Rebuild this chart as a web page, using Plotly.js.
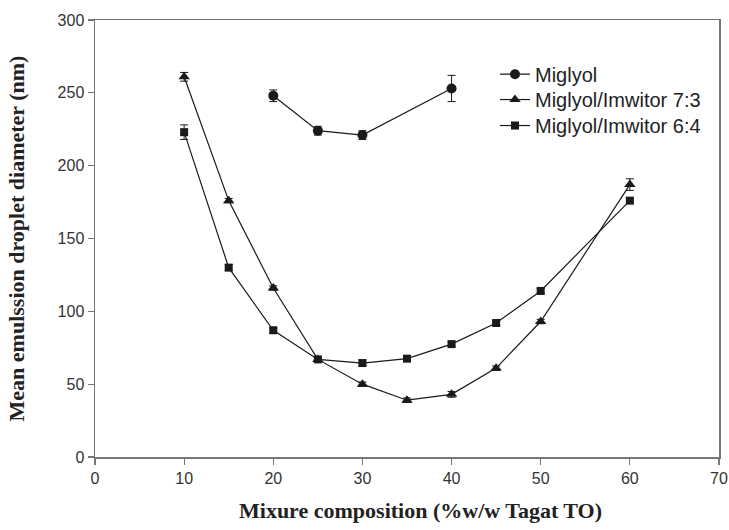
<!DOCTYPE html>
<html>
<head>
<meta charset="utf-8">
<script src="https://cdn.plot.ly/plotly-3.0.1.min.js"></script>
<style>html,body{margin:0;padding:0;background:#fff;}#chart{width:729px;height:530px;}</style>
</head>
<body>
<div id="chart"></div>
<script>
const seriesNames = ["Miglyol", "Miglyol/Imwitor 7:3", "Miglyol/Imwitor 6:4"];
const xMiglyol = [20, 25, 30, 40];
const yMiglyol = [248, 224, 221, 253];
const eMiglyol = [4, 3, 3, 9];
const x73 = [10, 15, 20, 25, 30, 35, 40, 45, 50, 60];
const y73 = [261, 176, 116, 67, 50, 39, 43, 61, 93, 187];
const e73 = [3, 1.5, 1.5, 1.5, 1.5, 1.5, 2, 1.5, 1.5, 4];
const x64 = [10, 15, 20, 25, 30, 35, 40, 45, 50, 60];
const y64 = [223, 130, 87, 67, 64.5, 67.5, 77.5, 92, 114, 176];
const e64 = [5, 2, 1.5, 1.5, 2, 1.5, 1.5, 1.5, 1.5, 2];
const xTicks = [0, 10, 20, 30, 40, 50, 60, 70];
const yTicks = [0, 50, 100, 150, 200, 250, 300];

const ink = "#1a1a1a";
function tr(name, x, y, e, sym, size, leg) {
  return {
    type: "scatter", mode: "lines+markers", name: name, x: x, y: y, legend: leg,
    line: {color: ink, width: 1.2},
    marker: {symbol: sym, size: size, color: ink},
    error_y: {type: "data", array: e, visible: true, color: ink, thickness: 1, width: 4}
  };
}
const data = [
  tr(seriesNames[0], xMiglyol, yMiglyol, eMiglyol, "circle", 10, "legend"),
  tr(seriesNames[1], x73, y73, e73, "triangle-up", 10, "legend2"),
  tr(seriesNames[2], x64, y64, e64, "square", 8, "legend3")
];
const axisCommon = {
  showgrid: false, zeroline: false, showline: true, linecolor: "#777", linewidth: 1.5,
  mirror: true, ticks: "outside", ticklen: 6, tickcolor: "#777", tickwidth: 1.2,
  tickfont: {family: "Liberation Sans, Arial, sans-serif", size: 16, color: "#333"}
};
const titleFont = {family: "Liberation Serif, Times New Roman, serif", size: 22, color: "#222", weight: "bold"};
function leg(y) {
  return {x: 0.641, y: y, xanchor: "left", yanchor: "middle", bgcolor: "rgba(0,0,0,0)",
    font: {family: "Liberation Sans, Arial, sans-serif", size: 20, color: "#222"}};
}
const layout = {
  width: 729, height: 530,
  margin: {l: 95, r: 10, t: 20, b: 73},
  paper_bgcolor: "#fff", plot_bgcolor: "#fff",
  showlegend: true,
  legend: leg(0.876), legend2: leg(0.818), legend3: leg(0.7585),
  xaxis: Object.assign({}, axisCommon, {range: [0, 70], tickvals: xTicks, ticktext: xTicks.map(String)}),
  yaxis: Object.assign({}, axisCommon, {range: [0, 300], tickvals: yTicks, ticktext: yTicks.map(String),
    title: {text: "Mean emulssion droplet diameter (nm)", standoff: 27, font: titleFont}}),
  annotations: [{text: "Mixure composition (%w/w Tagat TO)", xref: "paper", yref: "paper",
    x: 0.522, y: -0.122, xanchor: "center", yanchor: "middle", showarrow: false, font: titleFont}]
};
Plotly.newPlot("chart", data, layout, {staticPlot: true, displayModeBar: false});
</script>
</body>
</html>
